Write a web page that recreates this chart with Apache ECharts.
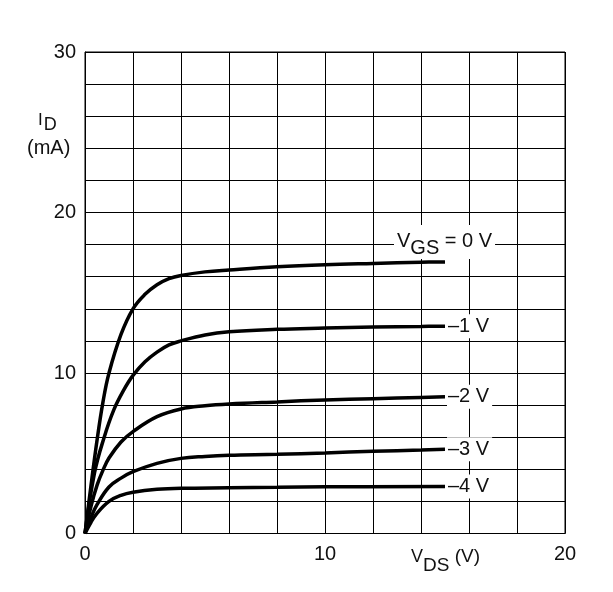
<!DOCTYPE html>
<html>
<head>
<meta charset="utf-8">
<script src="https://cdn.jsdelivr.net/npm/echarts@6.0.0/dist/echarts.min.js"></script>
<style>
  html, body { margin: 0; padding: 0; background: #fff; }
  #main { width: 613px; height: 592px; }
</style>
</head>
<body>
<div id="main"></div>
<script>
// V_DS (V) / I_D (mA), one pair of arrays per V_GS curve
var vds0 = [0, 0.25, 0.5, 0.75, 1, 1.5, 2, 2.5, 3, 3.5, 4, 5, 6, 8, 10, 12, 14, 15];
var id0  = [0, 3, 5.8, 8.2, 10, 12.4, 14, 14.9, 15.5, 15.88, 16.08, 16.3, 16.42, 16.62, 16.75, 16.83, 16.9, 16.92];

var vds1 = [0, 0.4, 0.8, 1.2, 1.6, 2, 2.5, 3, 3.5, 4, 5, 6, 8, 10, 12, 14, 15];
var id1  = [0, 3.8, 6.0, 7.7, 8.9, 9.85, 10.7, 11.3, 11.75, 12.0, 12.37, 12.57, 12.72, 12.8, 12.87, 12.9, 12.92];

var vds2 = [0, 0.25, 0.5, 0.75, 1, 1.5, 2, 3, 4, 5, 6, 8, 10, 12, 14, 15];
var id2  = [0, 1.7, 3.0, 3.95, 4.7, 5.7, 6.35, 7.28, 7.76, 7.96, 8.07, 8.2, 8.32, 8.4, 8.48, 8.52];

var vds3 = [0, 0.25, 0.5, 1, 1.5, 2, 3, 4, 5, 6, 8, 10, 12, 14, 15];
var id3  = [0, 1.0, 1.8, 2.9, 3.45, 3.85, 4.37, 4.68, 4.8, 4.87, 4.93, 5.02, 5.12, 5.2, 5.25];

var vds4 = [0, 0.25, 0.5, 1, 1.5, 2, 3, 4, 6, 8, 10, 15];
var id4  = [0, 0.7, 1.26, 2.0, 2.38, 2.57, 2.75, 2.82, 2.85, 2.88, 2.91, 2.93];

var curveNames = ['0 V', '\u20131 V', '\u20132 V', '\u20133 V', '\u20134 V'];
var xLabels = [0, 10, 20];
var yLabels = [0, 10, 20, 30];

var ink = '#111';
var font = '"Liberation Sans", Arial, sans-serif';

function pairs(xs, ys) {
    var out = [];
    for (var i = 0; i < xs.length; i++) out.push([xs[i], ys[i]]);
    return out;
}

var curves = [pairs(vds0, id0), pairs(vds1, id1), pairs(vds2, id2), pairs(vds3, id3), pairs(vds4, id4)];

var series = curves.map(function (d, i) {
    var s = {
        name: curveNames[i],
        type: 'line',
        data: d,
        smooth: 0.4,
        showSymbol: false,
        symbol: 'none',
        animation: false,
        lineStyle: { color: '#000', width: 3.5 },
        endLabel: {
            show: true,
            distance: 2,
            color: ink,
            fontFamily: font,
            fontSize: 20,
            backgroundColor: '#fff',
            padding: [2, 3, 2, 1],
            formatter: '{n|{a}}',
            rich: { n: { fontSize: 20, fontFamily: font, color: ink } }
        }
    };
    if (i === 0) {
        // this label sits above the end of its curve, centred on it
        s.endLabel.offset = [-53, -20];
        s.endLabel.padding = [0, 3, 0, 3];
        s.endLabel.formatter = '{v|V}{s|GS}{v| = 0 V}';
        s.endLabel.rich = {
            v: { fontSize: 20, fontFamily: font, color: ink },
            s: { fontSize: 20, fontFamily: font, color: ink, padding: [14, 0, 0, 0] }
        };
    }
    return s;
});

var myChart = echarts.init(document.getElementById('main'));

var option = {
    backgroundColor: '#fff',
    animation: false,
    grid: {
        left: 85, top: 52, width: 480, height: 481.5,
        show: true, borderColor: '#000', borderWidth: 1
    },
    xAxis: {
        type: 'value',
        min: 0, max: 20, interval: 2,
        axisLine: { show: true, lineStyle: { color: '#000', width: 1 } },
        axisTick: { show: false },
        splitLine: { show: true, lineStyle: { color: '#000', width: 1 } },
        axisLabel: {
            margin: 11, fontSize: 20, fontFamily: font, color: ink,
            formatter: function (v) { return xLabels.indexOf(v) >= 0 ? String(v) : ''; }
        }
    },
    yAxis: {
        type: 'value',
        min: 0, max: 30, interval: 2,
        axisLine: { show: true, lineStyle: { color: '#000', width: 1 } },
        axisTick: { show: false },
        splitLine: { show: true, lineStyle: { color: '#000', width: 1 } },
        axisLabel: {
            margin: 9, fontSize: 20, fontFamily: font, color: ink,
            formatter: function (v) { return yLabels.indexOf(v) >= 0 ? String(v) : ''; }
        }
    },
    graphic: [
        {
            type: 'text', x: 38, y: 120,
            style: {
                text: '{a|I}{b|D}', verticalAlign: 'middle',
                rich: {
                    a: { fontSize: 17, fontFamily: font, fill: ink },
                    b: { fontSize: 18, fontFamily: font, fill: ink, padding: [10, 0, 0, 1] }
                }
            }
        },
        {
            type: 'text', x: 27, y: 148,
            style: { text: '(mA)', fontSize: 20, fontFamily: font, fill: ink, verticalAlign: 'middle' }
        },
        {
            type: 'text', x: 411, y: 557,
            style: {
                text: '{a|V}{b|DS}{c| (V)}', verticalAlign: 'middle',
                rich: {
                    a: { fontSize: 18, fontFamily: font, fill: ink },
                    b: { fontSize: 19, fontFamily: font, fill: ink, padding: [17, 0, 0, 0] },
                    c: { fontSize: 19, fontFamily: font, fill: ink }
                }
            }
        }
    ],
    series: series
};

myChart.setOption(option);
</script>
</body>
</html>
